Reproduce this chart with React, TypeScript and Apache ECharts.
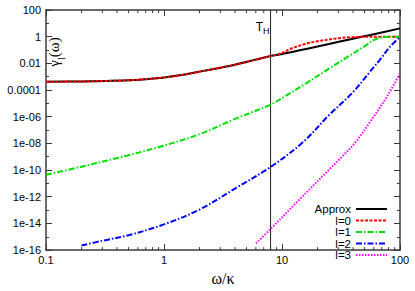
import React, { useEffect, useRef } from 'react';
import * as echarts from 'echarts';

// ---- axis ranges (decades) and tick labels ----
const X_MIN_EXP = -1;
const X_MAX_EXP = 2;
const Y_MIN_EXP = -16;
const Y_MAX_EXP = 2;

const xTickExponents = [-1, 0, 1, 2];
const xTickLabels = ['0.1', '1', '10', '100'];
const yTickExponents = [-16, -14, -12, -10, -8, -6, -4, -2, 0, 2];
const yTickLabels = ['1e-16', '1e-14', '1e-12', '1e-10', '1e-08', '1e-06', '0.0001', '0.01', '1', '100'];
const xMinorTicks = [0.2, 0.3, 0.4, 0.5, 0.6, 0.7, 0.8, 0.9, 2, 3, 4, 5, 6, 7, 8, 9, 20, 30, 40, 50, 60, 70, 80, 90];

const hawkingTemperature = 8; // T_H (omega/kappa)

// ---- series data (omega/kappa, gamma_l) ----
const approxOmega = [0.1, 0.2, 0.3, 0.5, 0.7, 1, 1.5, 2, 3, 4, 6, 8, 10, 16, 25, 40, 60, 100];
const approxGamma = [4.1e-4, 4.4e-4, 4.7e-4, 5.4e-4, 6.5e-4, 8.7e-4, 1.45e-3, 2.4e-3, 4.7e-3, 7.9e-3, 0.019, 0.035, 0.05, 0.12, 0.28, 0.71, 1.5, 4.2];

const l0Omega = [0.1, 0.2, 0.3, 0.5, 0.7, 1, 1.5, 2, 3, 4, 6, 8, 10, 12, 16, 20, 30, 40, 50, 70, 100];
const l0Gamma = [4.1e-4, 4.4e-4, 4.7e-4, 5.4e-4, 6.5e-4, 8.7e-4, 1.45e-3, 2.4e-3, 4.7e-3, 7.9e-3, 0.019, 0.035, 0.06, 0.13, 0.3, 0.45, 0.76, 0.92, 0.98, 1.0, 1.0];

const l1Omega = [0.1, 0.2, 0.5, 1, 2, 4, 8, 10, 16, 25, 40, 50, 60, 70, 80, 100];
const l1Gamma = [4.5e-11, 1.8e-10, 1.3e-9, 6.9e-9, 4.9e-8, 6.8e-7, 8e-6, 2.5e-5, 3.2e-4, 4e-3, 0.055, 0.19, 0.56, 0.87, 0.98, 1.0];

const l2Omega = [0.2, 0.3, 0.5, 1, 2, 4, 8, 15, 25, 40, 55, 68, 82, 100];
const l2Gamma = [2.2e-16, 5e-16, 1.3e-15, 8.5e-15, 1.1e-13, 4.1e-12, 1.7e-10, 1.2e-8, 1.3e-6, 7e-5, 2.1e-3, 0.02, 0.17, 0.95];

const l3Omega = [6.03, 7.95, 14.2, 25.5, 32.2, 41.6, 55.7, 79, 100];
const l3Gamma = [3.2e-16, 3.6e-15, 6.8e-13, 1.26e-10, 1.0e-9, 1.1e-8, 4e-7, 4.2e-5, 1.8e-3];

const seriesNames = ['Approx', 'l=0', 'l=1', 'l=2', 'l=3'];
const seriesColors = ['#000000', '#ff0000', '#00e000', '#0000ff', '#ff00ff'];
const seriesDashes: any[] = ['solid', [3, 1.5], [6, 2, 1.5, 2], [6, 2, 1.5, 2], [1.5, 1.5]];

const SANS = 'Liberation Sans, Arial, Helvetica, sans-serif';
const SERIF = 'Liberation Serif, DejaVu Serif, Times New Roman, serif';
const AXIS_COLOR = '#3a3a3a';

const toLog = (w: number[], g: number[]) => w.map((x, i) => [Math.log10(x), Math.log10(g[i])]);

export default function App() {
  const ref = useRef<HTMLDivElement>(null);

  useEffect(() => {
    if (!ref.current) return;
    const chart = echarts.init(ref.current, undefined, { renderer: 'svg' });

    const allData = [
      toLog(approxOmega, approxGamma),
      toLog(l0Omega, l0Gamma),
      toLog(l1Omega, l1Gamma),
      toLog(l2Omega, l2Gamma),
      toLog(l3Omega, l3Gamma),
    ];

    const xFmt = (v: number) => {
      const i = xTickExponents.indexOf(Math.round(v));
      return i >= 0 ? xTickLabels[i] : '';
    };
    const yFmt = (v: number) => {
      const i = yTickExponents.indexOf(Math.round(v));
      return i >= 0 ? yTickLabels[i] : '';
    };

    const baseX = {
      type: 'value',
      min: X_MIN_EXP,
      max: X_MAX_EXP,
      interval: 1,
      splitLine: { show: false },
      axisLine: { show: true, onZero: false, lineStyle: { color: AXIS_COLOR, width: 1.5 } },
      axisTick: { show: true, inside: true, length: 6, lineStyle: { color: AXIS_COLOR, width: 1 } },
    };
    const baseY = {
      type: 'value',
      min: Y_MIN_EXP,
      max: Y_MAX_EXP,
      interval: 2,
      splitLine: { show: false },
      axisLine: { show: true, onZero: false, lineStyle: { color: AXIS_COLOR, width: 1.5 } },
      axisTick: { show: true, inside: true, length: 6, lineStyle: { color: AXIS_COLOR, width: 1 } },
      minorTick: { show: true, splitNumber: 2, length: 3, lineStyle: { color: AXIS_COLOR, width: 1 } },
    };

    const lineSeries = seriesNames.map((name, i) => ({
      name,
      type: 'line',
      data: allData[i],
      xAxisIndex: 0,
      yAxisIndex: 0,
      symbol: 'none',
      showSymbol: false,
      smooth: 0.35,
      z: 3 + i,
      lineStyle: { color: seriesColors[i], width: 2, type: seriesDashes[i] },
      itemStyle: { color: seriesColors[i] },
    }));

    const minorTickSeries = {
      type: 'custom',
      name: 'xMinor',
      silent: true,
      clip: false,
      z: 10,
      xAxisIndex: 0,
      yAxisIndex: 0,
      data: xMinorTicks.map((v) => [Math.log10(v), Y_MIN_EXP]),
      renderItem: (params: any, api: any) => {
        const x = api.value(0);
        const b = api.coord([x, Y_MIN_EXP]);
        const t = api.coord([x, Y_MAX_EXP]);
        const st = { stroke: AXIS_COLOR, lineWidth: 1 };
        return {
          type: 'group',
          children: [
            { type: 'line', shape: { x1: b[0], y1: b[1], x2: b[0], y2: b[1] - 3 }, style: st },
            { type: 'line', shape: { x1: t[0], y1: t[1], x2: t[0], y2: t[1] + 3 }, style: st },
          ],
        };
      },
    };

    const thSeries = {
      type: 'custom',
      name: 'TH',
      silent: true,
      clip: false,
      z: 2,
      xAxisIndex: 0,
      yAxisIndex: 0,
      data: [[Math.log10(hawkingTemperature), Y_MIN_EXP]],
      renderItem: (params: any, api: any) => {
        const x = api.value(0);
        const b = api.coord([x, Y_MIN_EXP]);
        const t = api.coord([x, Y_MAX_EXP]);
        return {
          type: 'group',
          children: [
            { type: 'line', shape: { x1: b[0], y1: b[1], x2: t[0], y2: t[1] }, style: { stroke: '#222', lineWidth: 1 } },
            {
              type: 'text',
              x: t[0] - 7.5,
              y: t[1] + 10.5,
              style: { text: 'T', fontSize: 12, fontFamily: SANS, fill: '#000', align: 'right', verticalAlign: 'top' },
            },
            {
              type: 'text',
              x: t[0] - 7.5,
              y: t[1] + 16.5,
              style: { text: 'H', fontSize: 9, fontFamily: SANS, fill: '#000', align: 'left', verticalAlign: 'top' },
            },
          ],
        };
      },
    };

    const option: any = {
      animation: false,
      backgroundColor: '#ffffff',
      grid: { left: 46, right: 15, top: 10, bottom: 27, containLabel: false },
      xAxis: [
        {
          ...baseX,
          position: 'bottom',
          name: 'ω/κ',
          nameLocation: 'middle',
          nameGap: 15,
          nameTextStyle: { fontFamily: SERIF, fontSize: 16, color: '#000' },
          axisLabel: { show: true, margin: 4, formatter: xFmt, fontFamily: SANS, fontSize: 11, color: '#000' },
        },
        { ...baseX, position: 'top', axisLabel: { show: false } },
      ],
      yAxis: [
        {
          ...baseY,
          position: 'left',
          axisLabel: { show: true, margin: 5, formatter: yFmt, fontFamily: SANS, fontSize: 11, color: '#000' },
        },
        { ...baseY, position: 'right', axisLabel: { show: false } },
      ],
      legend: {
        data: seriesNames,
        orient: 'vertical',
        align: 'right',
        right: 27,
        top: 203,
        padding: 0,
        itemWidth: 31,
        itemHeight: 11,
        itemGap: -0.5,
        itemStyle: { color: 'transparent', borderColor: 'transparent', borderWidth: 0, opacity: 0 },
        textStyle: { fontFamily: SANS, fontSize: 11.5, lineHeight: 11, color: '#000' },
      },
      graphic: [
        {
          type: 'text',
          x: 56,
          y: 52,
          rotation: Math.PI / 2,
          style: {
            text: '{g|γ}{s|l}{g|(ω)}',
            align: 'center',
            verticalAlign: 'middle',
            fill: '#000',
            rich: {
              g: { fontFamily: SERIF, fontSize: 15, lineHeight: 20, verticalAlign: 'top', fill: '#000' },
              s: { fontFamily: SERIF, fontSize: 10, lineHeight: 12, verticalAlign: 'bottom', fill: '#000' },
            },
          },
        },
      ],
      series: [...lineSeries, minorTickSeries, thSeries],
    };

    chart.setOption(option);
    return () => chart.dispose();
  }, []);

  return (
    <div
      ref={ref}
      style={{ position: 'absolute', left: 0, top: 0, width: 415, height: 291, background: '#fff' }}
    />
  );
}
